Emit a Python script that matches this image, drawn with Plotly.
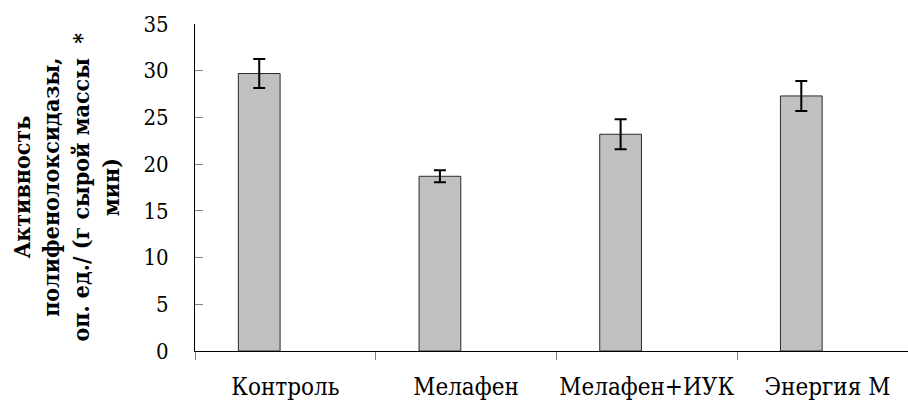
import plotly.graph_objects as go

# Polyphenol oxidase activity by treatment
categories = ["Контроль", "Мелафен", "Мелафен+ИУК", "Энергия М"]
activity = [29.7, 18.7, 23.2, 27.3]
activity_err = [1.55, 0.65, 1.6, 1.6]
y_ticks = [0, 5, 10, 15, 20, 25, 30, 35]

serif = "DejaVu Serif Condensed"

fig = go.Figure()
fig.add_trace(go.Bar(
    x=categories,
    y=activity,
    offset=-0.26,
    width=0.231,
    marker=dict(color="#C0C0C0", line=dict(color="#2a2a2a", width=1)),
    error_y=dict(type="data", array=activity_err, visible=True,
                 color="#000000", thickness=2, width=6),
    showlegend=False,
))

fig.update_layout(
    width=908, height=403,
    margin=dict(l=195, r=0, t=24, b=52, pad=0),
    paper_bgcolor="white", plot_bgcolor="white",
    font=dict(family=serif, color="#000000"),
    xaxis=dict(
        type="category",
        range=[-0.5, 3.446],
        showline=True, linecolor="#000000", linewidth=1,
        showgrid=False, zeroline=False,
        ticks="outside", tickson="boundaries", ticklen=8,
        tickcolor="#808080", tickwidth=1, tickangle=0,
        tickfont=dict(family=serif, size=24, color="#000000"),
        ticklabelstandoff=14,
    ),
    yaxis=dict(
        range=[0, 35],
        tickvals=y_ticks,
        showline=True, linecolor="#000000", linewidth=1,
        showgrid=False, zeroline=False,
        ticks="inside", ticklen=8, tickcolor="#808080", tickwidth=1,
        tickfont=dict(family=serif, size=22, color="#000000"),
        ticklabelstandoff=21,
    ),
    annotations=[dict(
        text="Активность<br>полифенолоксидазы,<br>оп. ед./ (г сырой массы  *<br>мин)",
        textangle=-90,
        xref="paper", yref="paper",
        x=(66 - 195) / 713, y=0.5,
        xanchor="center", yanchor="middle",
        showarrow=False, align="center",
        font=dict(family=serif, size=23, color="#000000", weight="bold"),
    )],
)

fig.write_html("out.html")
